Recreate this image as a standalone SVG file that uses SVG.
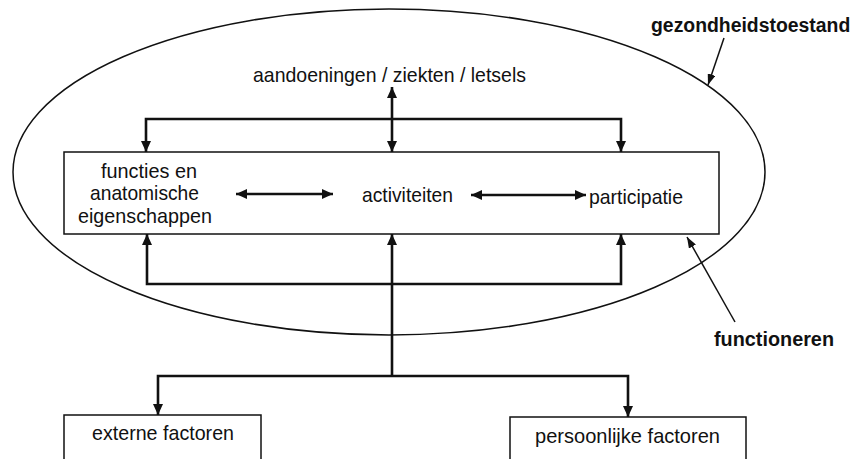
<svg xmlns="http://www.w3.org/2000/svg" width="856" height="459" viewBox="0 0 856 459">
  <defs>
    <marker id="ah" markerUnits="userSpaceOnUse" markerWidth="12" markerHeight="10" refX="11" refY="5" orient="auto-start-reverse">
      <path d="M0,0 L11,5 L0,10 Z" fill="#111"/>
    </marker>
    <marker id="ahThin" markerUnits="userSpaceOnUse" markerWidth="12" markerHeight="8" refX="11" refY="4" orient="auto">
      <path d="M0,0 L11,4 L0,8 Z" fill="#111"/>
    </marker>
  </defs>
  <style>
    text { font-family: "Liberation Sans", Arial, sans-serif; font-size: 21px; fill: #111; }
    .b { font-weight: bold; }
    .box { fill: none; stroke: #111; stroke-width: 1.5; }
    .thin { fill: none; stroke: #111; stroke-width: 1.5; }
    .con { fill: none; stroke: #111; stroke-width: 2.6; }
  </style>
  <rect width="856" height="459" fill="#fff"/>

  <g id="gezondheidstoestand">
    <ellipse cx="389" cy="172" rx="376" ry="163" class="thin"/>
    <text class="b" x="651" y="32" style="font-size:19.4px">gezondheidstoestand</text>
    <line x1="724" y1="38" x2="708" y2="85" class="thin" marker-end="url(#ahThin)"/>
  </g>

  <g id="functioneren">
    <rect x="64" y="152" width="655" height="82" class="box"/>
    <text class="b" x="714" y="346" textLength="120" lengthAdjust="spacingAndGlyphs">functioneren</text>
    <line x1="735" y1="322" x2="687" y2="237" class="thin" marker-end="url(#ahThin)"/>
  </g>

  <g id="aandoeningen">
    <text x="253" y="82" textLength="273" lengthAdjust="spacingAndGlyphs">aandoeningen / ziekten / letsels</text>
  </g>

  <g id="functies">
    <text x="101" y="178" textLength="96" lengthAdjust="spacingAndGlyphs">functies en</text>
    <text x="90" y="200" textLength="109" lengthAdjust="spacingAndGlyphs">anatomische</text>
    <text x="78" y="223" textLength="134" lengthAdjust="spacingAndGlyphs">eigenschappen</text>
  </g>

  <g id="activiteiten">
    <text x="362" y="202" textLength="91" lengthAdjust="spacingAndGlyphs">activiteiten</text>
  </g>

  <g id="participatie">
    <text x="589" y="204" textLength="94" lengthAdjust="spacingAndGlyphs">participatie</text>
  </g>

  <g id="externe-factoren">
    <rect x="64" y="415" width="197" height="50" class="box"/>
    <text x="92" y="440" textLength="142" lengthAdjust="spacingAndGlyphs">externe factoren</text>
  </g>

  <g id="persoonlijke-factoren">
    <rect x="510" y="417" width="236" height="50" class="box"/>
    <text x="535" y="443" textLength="185" lengthAdjust="spacingAndGlyphs">persoonlijke factoren</text>
  </g>

  <g id="connectors">
    <line x1="392" y1="87" x2="392" y2="152" class="con" marker-start="url(#ah)" marker-end="url(#ah)"/>
    <polyline points="146,152 146,119 621,119 621,152" class="con" marker-start="url(#ah)" marker-end="url(#ah)"/>
    <polyline points="147,234 147,284 621,284 621,234" class="con" marker-start="url(#ah)" marker-end="url(#ah)"/>
    <line x1="236" y1="194" x2="333" y2="194" class="con" marker-start="url(#ah)" marker-end="url(#ah)"/>
    <line x1="471" y1="195" x2="586" y2="195" class="con" marker-start="url(#ah)" marker-end="url(#ah)"/>
    <line x1="392" y1="376" x2="392" y2="234" class="con" marker-end="url(#ah)"/>
    <polyline points="158,415 158,376 628,376 628,417" class="con" marker-start="url(#ah)" marker-end="url(#ah)"/>
  </g>
</svg>
